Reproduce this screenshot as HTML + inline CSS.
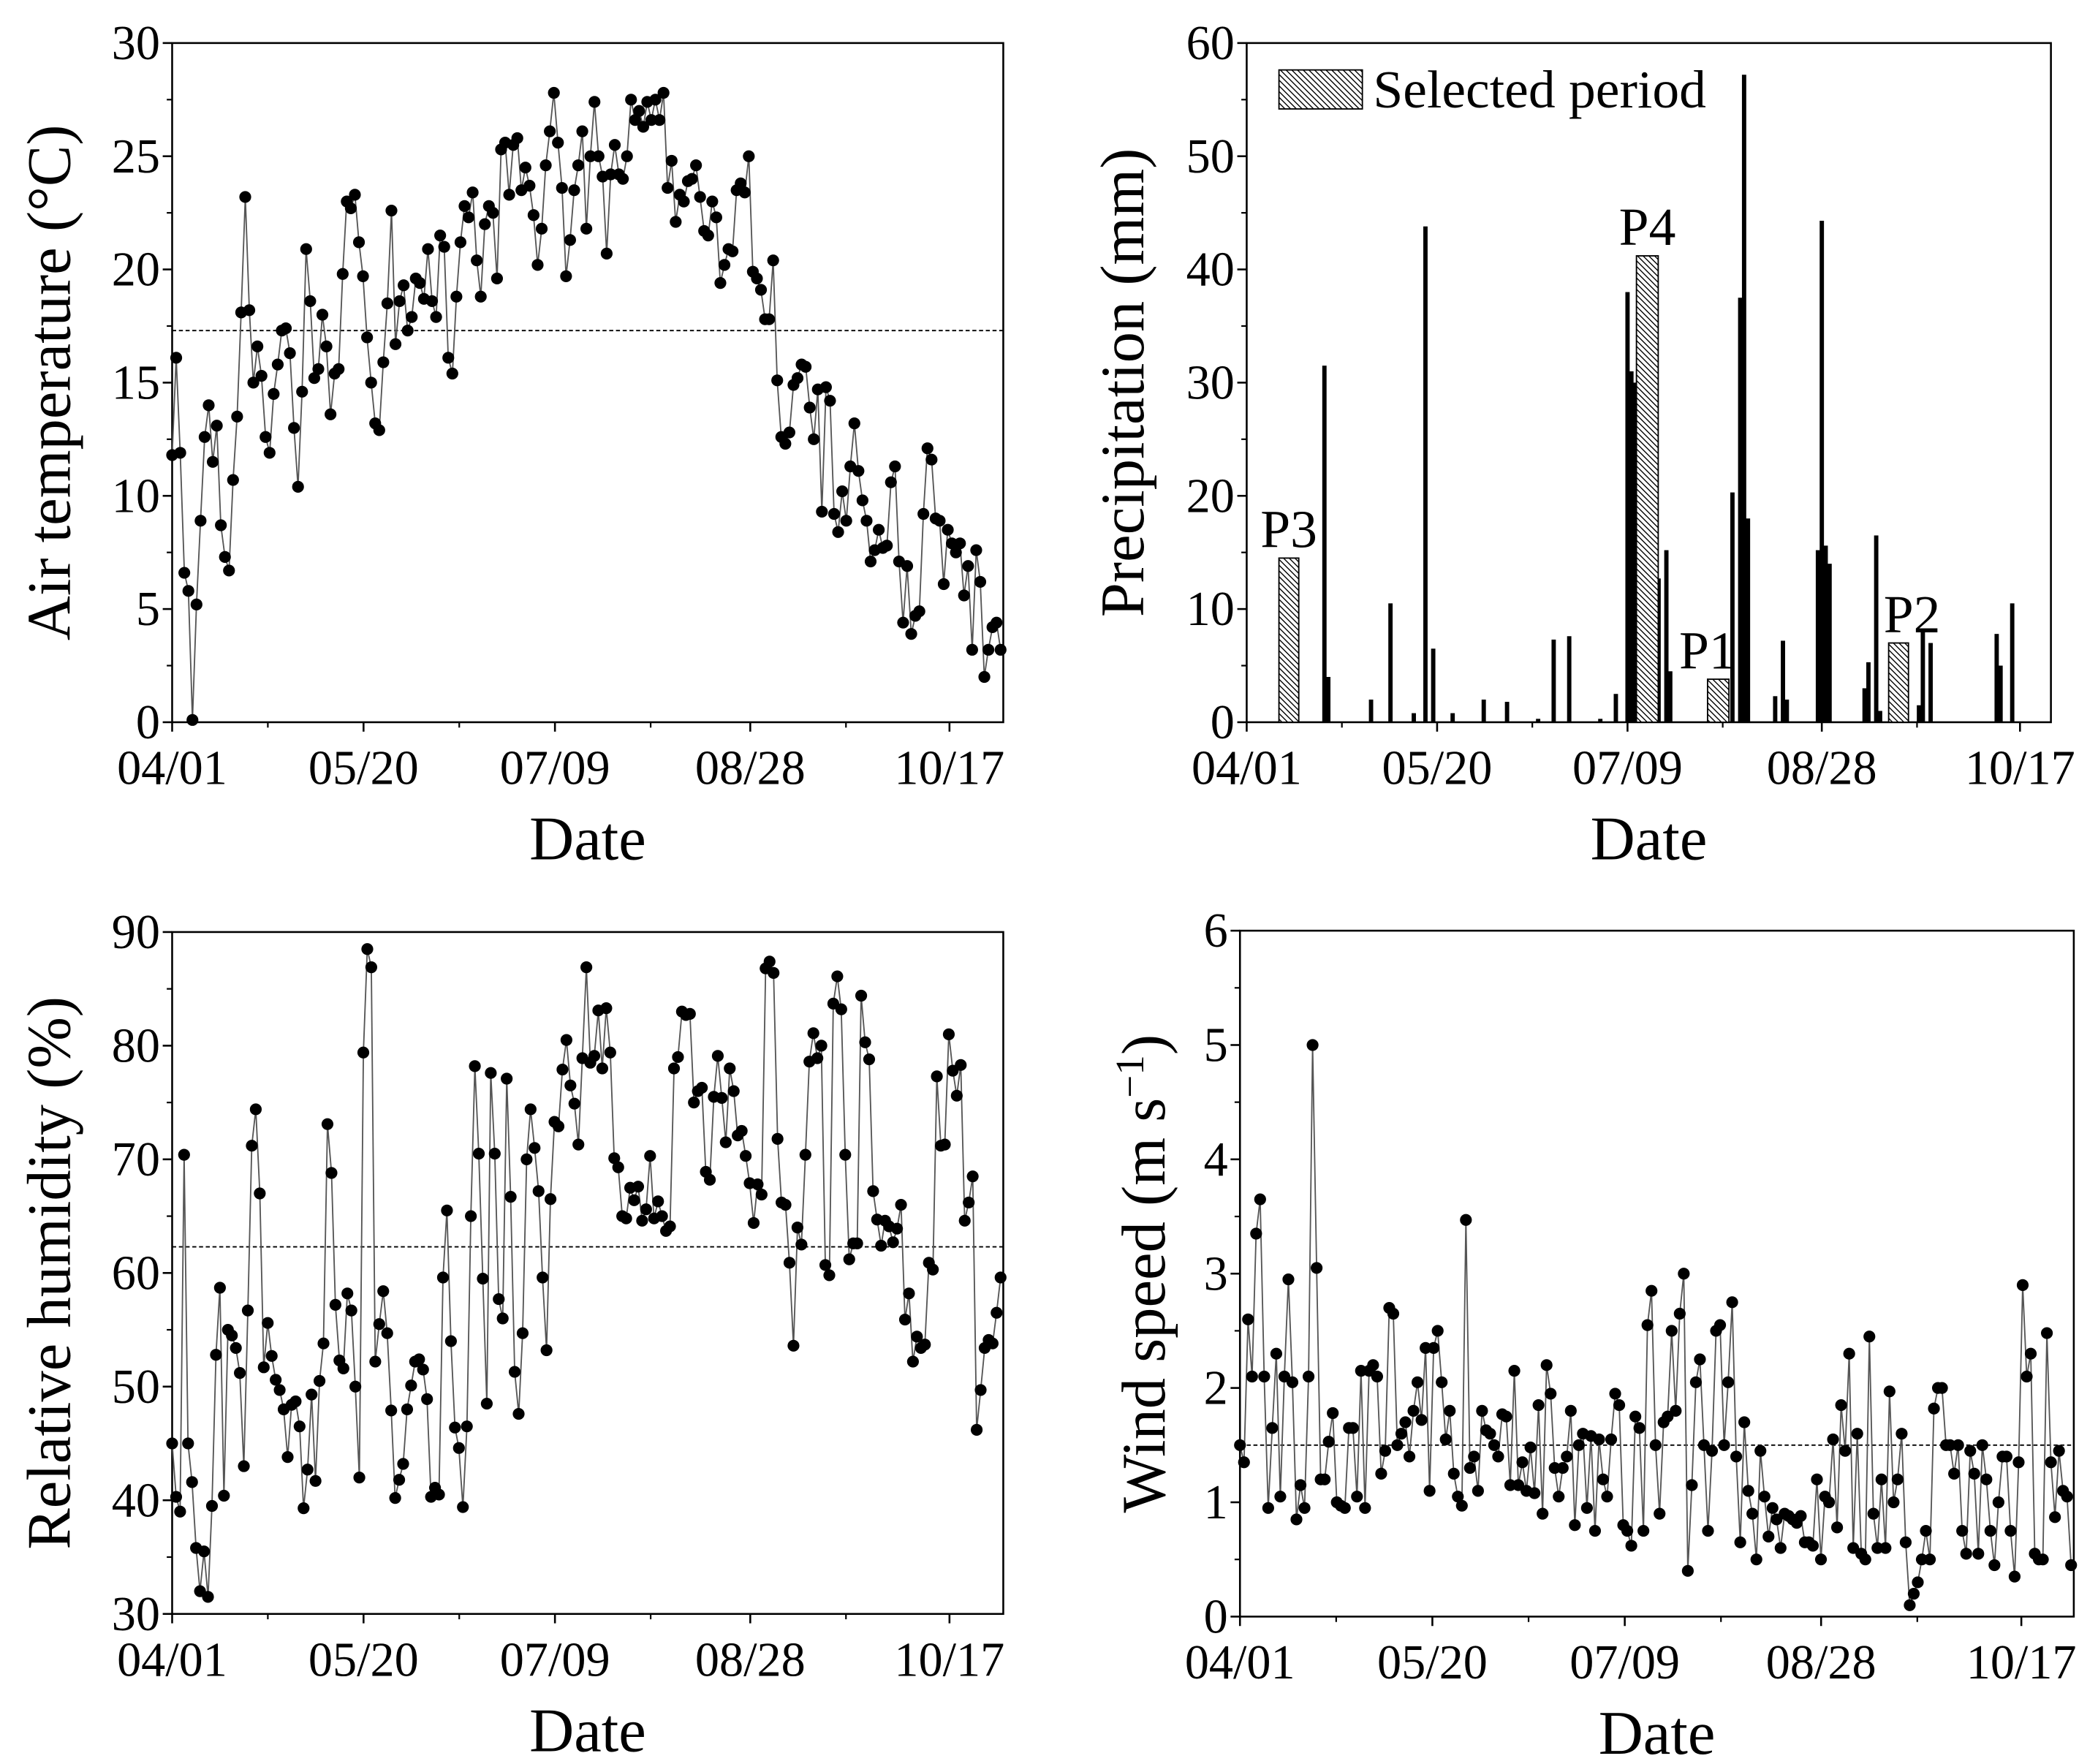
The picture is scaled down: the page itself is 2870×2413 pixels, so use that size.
<!DOCTYPE html>
<html><head><meta charset="utf-8">
<style>
html,body{margin:0;padding:0;background:#fff;}
svg{display:block;}
text{font-family:"Liberation Serif",serif;fill:#000;}
</style></head>
<body>
<svg id="chart" width="2870" height="2413" viewBox="0 0 1560 1311.6" preserveAspectRatio="none" xmlns="http://www.w3.org/2000/svg">
<defs>
<pattern id="hatch" patternUnits="userSpaceOnUse" width="3" height="3" patternTransform="rotate(-45)">
<rect width="3" height="3" fill="#fff"/><line x1="0" y1="0" x2="0" y2="3" stroke="#000" stroke-width="1.5"/>
</pattern>
</defs>
</svg>
<script>
// ---------- data ----------
const dateTicks = ["04/01","05/20","07/09","08/28","10/17"];
const dateTickDays = [0,49,98,148,199];
const tempValues = [11.8,16.1,11.9,6.6,5.8,0.1,5.2,8.9,12.6,14,11.5,
13.1,8.7,7.3,6.7,10.7,13.5,18.1,23.2,18.2,15,
16.6,15.3,12.6,11.9,14.5,15.8,17.3,17.4,16.3,13,
10.4,14.6,20.9,18.6,15.2,15.6,18,16.6,13.6,15.4,
15.6,19.8,23,22.7,23.3,21.2,19.7,17,15,13.2,
12.9,15.9,18.5,22.6,16.7,18.6,19.3,17.3,17.9,19.6,
19.4,18.7,20.9,18.6,17.9,21.5,21,16.1,15.4,18.8,
21.2,22.8,22.3,23.4,20.4,18.8,22,22.8,22.5,19.6,
25.3,25.6,23.3,25.5,25.8,23.5,24.5,23.7,22.4,20.2,
21.8,24.6,26.1,27.8,25.6,23.6,19.7,21.3,23.5,24.6,
26.1,21.8,25,27.4,25,24.1,20.7,24.2,25.5,24.2,
24,25,27.5,26.6,27,26.3,27.4,26.6,27.5,26.6,
27.8,23.6,24.8,22.1,23.3,23,23.9,24,24.6,23.2,
21.7,21.5,23,22.3,19.4,20.2,20.9,20.8,23.5,23.8,
23.4,25,19.9,19.6,19.1,17.8,17.8,20.4,15.1,12.6,
12.3,12.8,14.9,15.2,15.8,15.7,13.9,12.5,14.7,9.3,
14.8,14.2,9.2,8.4,10.2,8.9,11.3,13.2,11.1,9.8,
8.9,7.1,7.6,8.5,7.7,7.8,10.6,11.3,7.1,4.4,
6.9,3.9,4.7,4.9,9.2,12.1,11.6,9,8.9,6.1,
8.5,7.9,7.5,7.9,5.6,6.9,3.2,7.6,6.2,2,
3.2,4.2,4.4,3.2];
const tempMean = 17.3;
const tempTicks = [0,5,10,15,20,25,30];

const rhValues = [45,40.3,39,70.4,45,41.6,35.8,32,35.5,31.5,39.5,
52.8,58.7,40.4,55,54.5,53.4,51.2,43,56.7,71.2,
74.4,67,51.7,55.6,52.7,50.6,49.7,48,43.8,48.4,
48.7,46.5,39.3,42.7,49.3,41.7,50.5,53.8,73.1,68.8,
57.2,52.3,51.6,58.2,56.7,50,42,79.4,88.5,86.9,
52.2,55.5,58.4,54.7,47.9,40.2,41.8,43.2,48,50.1,
52.2,52.4,51.5,48.9,40.3,41.1,40.5,59.6,65.5,54,
46.4,44.6,39.4,46.5,65,78.2,70.5,59.5,48.5,77.6,
70.5,57.7,56,77.1,66.7,51.3,47.6,54.7,70,74.4,
71,67.2,59.6,53.2,66.5,73.3,72.9,77.9,80.5,76.5,
74.9,71.3,78.9,86.9,78.5,79.1,83.1,78,83.3,79.4,
70.1,69.3,65,64.8,67.5,66.4,67.6,64.6,65.6,70.3,
64.8,66.3,65,63.7,64.1,78,79,83,82.7,82.8,
75,76,76.3,68.9,68.2,75.5,79.1,75.4,71.5,78,
76,72.1,72.5,70.3,67.9,64.4,67.8,66.9,86.8,87.4,
86.4,71.8,66.2,66,60.9,53.6,64,62.5,70.4,78.6,
81.1,78.9,80,60.7,59.8,83.7,86.1,83.2,70.4,61.2,
62.6,62.6,84.4,80.3,78.8,67.2,64.7,62.4,64.6,64.1,
62.7,63.9,66,55.9,58.2,52.2,54.4,53.4,53.7,60.9,
60.3,77.3,71.2,71.3,81,77.8,75.6,78.3,64.6,66.2,
68.5,46.2,49.7,53.4,54.1,53.8,56.5,59.6];
const rhMean = 62.3;
const rhTicks = [30,40,50,60,70,80,90];

const windValues = [1.5,1.35,2.6,2.1,3.35,3.65,2.1,0.95,1.65,2.3,1.05,
2.1,2.95,2.05,0.85,1.15,0.95,2.1,5,3.05,1.2,
1.2,1.53,1.78,1,0.97,0.95,1.65,1.65,1.05,2.15,
0.95,2.15,2.2,2.1,1.25,1.45,2.7,2.65,1.5,1.6,
1.7,1.4,1.8,2.05,1.72,2.35,1.1,2.35,2.5,2.05,
1.55,1.8,1.25,1.05,0.97,3.47,1.3,1.4,1.1,1.8,
1.63,1.6,1.5,1.4,1.77,1.75,1.15,2.15,1.15,1.35,
1.1,1.48,1.08,1.85,0.9,2.2,1.95,1.3,1.05,1.3,
1.4,1.8,0.8,1.5,1.6,0.95,1.58,0.75,1.55,1.2,
1.05,1.55,1.95,1.85,0.8,0.75,0.62,1.75,1.65,0.75,
2.55,2.85,1.5,0.9,1.7,1.75,2.5,1.8,2.65,3,
0.4,1.15,2.05,2.25,1.5,0.75,1.45,2.5,2.55,1.5,
2.05,2.75,1.4,0.65,1.7,1.1,0.9,0.5,1.45,1.05,
0.7,0.95,0.85,0.6,0.9,0.88,0.85,0.82,0.88,0.65,
0.65,0.62,1.2,0.5,1.05,1,1.55,0.78,1.85,1.45,
2.3,0.6,1.6,0.55,0.5,2.45,0.9,0.6,1.2,0.6,
1.97,1,1.2,1.6,0.65,0.1,0.2,0.3,0.5,0.75,
0.5,1.82,2,2,1.5,1.5,1.25,1.5,0.75,0.55,
1.45,1.25,0.55,1.5,1.2,0.75,0.45,1,1.4,1.4,
0.75,0.35,1.35,2.9,2.1,2.3,0.55,0.5,0.5,2.48,
1.35,0.87,1.45,1.1,1.05,0.45];
const windMean = 1.5;
const windTicks = [0,1,2,3,4,5,6];

const precipDays = [9,10,11,20,21,32,37,43,46,48,53,61,67,75,79,83,91,95,98,99,100,102,103,106,108,109,125,127,128,129,136,138,139,147,148,149,150,159,160,162,163,166,167,168,173,174,176,193,194,197];
const precipValues = [14,7,13.5,31.5,4,2,10.5,0.8,43.8,6.5,0.8,2,1.8,0.3,7.3,7.6,0.3,2.5,38,31,30,30.5,25.5,12.7,15.2,4.5,20.3,37.5,57.2,18,2.3,7.2,2,15.2,44.3,15.6,14,3,5.3,16.5,1,6,4.5,2,1.5,8,7,7.8,5,10.5];
const precipTicks = [0,10,20,30,40,50,60];
const periodNames = ["P3","P4","P1","P2"];
const periodStart = [8.3,100.3,118.6,165.2];
const periodEnd = [13.4,105.9,124.1,170.3];
const periodValues = [14.5,41.2,3.8,7];

// ---------- drawing ----------
const svg = document.getElementById('chart');
const NS = "http://www.w3.org/2000/svg";
function mk(tag, attrs, parent){
  const e = document.createElementNS(NS, tag);
  for (const k in attrs) e.setAttribute(k, attrs[k]);
  (parent||svg).appendChild(e);
  return e;
}

function panel(cfg){
  const g = mk('g', {});
  
  
  const X = d => cfg.x0 + (d/199)*(cfg.x10 - cfg.x0);
  const Y = v => cfg.yb - (v - cfg.ymin)/(cfg.ymax - cfg.ymin)*(cfg.yb - cfg.yt);
  const fr = mk('rect', {x:cfg.x0, y:cfg.yt, width:cfg.xr-cfg.x0, height:cfg.yb-cfg.yt, fill:'none', stroke:'#000', 'stroke-width':1.4}, g);
  
  
  cfg.yticks.forEach((t,i) => {
    const y = Y(t);
    mk('line', {x1:cfg.x0-7, x2:cfg.x0, y1:y, y2:y, stroke:'#000','stroke-width':1.4}, g);
    if (i < cfg.yticks.length-1) {
      const ym = Y((t + cfg.yticks[i+1])/2);
      mk('line', {x1:cfg.x0-4, x2:cfg.x0, y1:ym, y2:ym, stroke:'#000','stroke-width':1.2}, g);
    }
    const tx = mk('text', {x:cfg.x0-9, y:y+12, 'text-anchor':'end', 'font-size':36}, g);
    tx.textContent = t;
    
    
  });
  dateTickDays.forEach((d,i) => {
    const x = X(d);
    mk('line', {x1:x, x2:x, y1:cfg.yb, y2:cfg.yb+7, stroke:'#000','stroke-width':1.4}, g);
    const xm = X(d + 24.5);
    if (xm < cfg.xr) mk('line', {x1:xm, x2:xm, y1:cfg.yb, y2:cfg.yb+4, stroke:'#000','stroke-width':1.2}, g);
    const tx = mk('text', {x:x, y:cfg.yb+46, 'text-anchor':'middle', 'font-size':36}, g);
    tx.textContent = dateTicks[i];
    
    
  });
  const xl = mk('text', {x:(cfg.x0+cfg.xr)/2, y:cfg.yb+102, 'text-anchor':'middle', 'font-size':46}, g);
  xl.textContent = 'Date';
  
  
  const yl = mk('text', {x:0, y:0, 'text-anchor':'middle', 'font-size':46, transform:`translate(${cfg.ylx},${(cfg.yt+cfg.yb)/2}) rotate(-90)`}, g);
  yl.innerHTML = cfg.ytitle;
  
  
  return {g, X, Y};
}

function scatterPanel(cfg, values, mean){
  const p = panel(cfg);
  const XI = i => cfg.x0 + i*(cfg.xr - 2 - cfg.x0)/(values.length-1);
  if (mean !== null) {
    const ml = mk('line', {x1:cfg.x0, x2:cfg.xr, y1:p.Y(mean), y2:p.Y(mean), stroke:'#000','stroke-width':1,'stroke-dasharray':'3,2'}, p.g);
    
    
  }
  const pts = values.map((v,i) => XI(i).toFixed(1)+','+p.Y(v).toFixed(1)).join(' ');
  const line = mk('polyline', {points:pts, fill:'none', stroke:'#555','stroke-width':1}, p.g);
  
  
  values.forEach((v,i) => {
    const c = mk('circle', {cx:XI(i), cy:p.Y(v), r:4.4, fill:'#000'}, p.g);
    
    
  });
}

scatterPanel({name:'air-temperature-panel', x0:128, x10:706, xr:746, yt:32, yb:537, ymin:0, ymax:30, yticks:tempTicks, ylx:52, ytitle:'Air temperature (°C)'}, tempValues, tempMean);
scatterPanel({name:'relative-humidity-panel', x0:128, x10:706, xr:746, yt:693, yb:1200, ymin:30, ymax:90, yticks:rhTicks, ylx:52, ytitle:'Relative humidity (%)'}, rhValues, rhMean);
scatterPanel({name:'wind-speed-panel', x0:922, x10:1503, xr:1542, yt:692, yb:1202, ymin:0, ymax:6, yticks:windTicks, ylx:866, ytitle:'Wind speed (m s<tspan dy="-16" font-size="30">−1</tspan><tspan dy="16">)</tspan>'}, windValues, windMean);

(function(){
  const cfg = {name:'precipitation-panel', x0:927, x10:1502, xr:1525, yt:32, yb:537, ymin:0, ymax:60, yticks:precipTicks, ylx:850, ytitle:'Precipitation (mm)'};
  const p = panel(cfg);
  precipDays.forEach((d,i) => {
    const b = mk('rect', {x:p.X(d)-1.6, y:p.Y(precipValues[i]), width:3.2, height:cfg.yb-p.Y(precipValues[i]), fill:'#000'}, p.g);
    
    
  });
  const labelOff = [[0,-8],[0,-8],[-8,-8],[10,-8]];
  periodNames.forEach((n,i) => {
    const x1 = p.X(periodStart[i]), x2 = p.X(periodEnd[i]);
    const r = mk('rect', {x:x1, y:p.Y(periodValues[i]), width:x2-x1, height:cfg.yb-p.Y(periodValues[i]), fill:'url(#hatch)', stroke:'#000','stroke-width':1}, p.g);
    
    
    const t = mk('text', {x:(x1+x2)/2+labelOff[i][0], y:p.Y(periodValues[i])+labelOff[i][1], 'text-anchor':'middle', 'font-size':40}, p.g);
    t.textContent = n;
    
    
  });
  const lg = mk('g', {}, p.g);
  
  
  mk('rect', {x:951, y:52, width:62, height:29, fill:'url(#hatch)', stroke:'#000','stroke-width':1}, lg);
  const lt = mk('text', {x:1021, y:80, 'font-size':40}, lg);
  lt.textContent = 'Selected period';
  
  
})();
</script>
</body></html>
